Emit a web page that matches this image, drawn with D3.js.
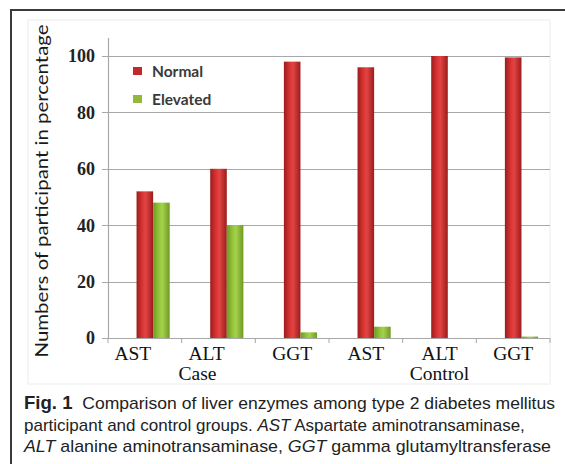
<!DOCTYPE html>
<html>
<head>
<meta charset="utf-8">
<script src="https://cdn.jsdelivr.net/npm/d3@7"></script>
<style>
  html, body { margin: 0; padding: 0; background: #fff; }
  svg { display: block; }
</style>
</head>
<body>
<svg id="chart" width="565" height="464"></svg>
<script>
// ---- data ----
const categories = ["AST", "ALT", "GGT", "AST", "ALT", "GGT"];
const groups = ["Case", "Control"];
const normalValues = [52, 60, 98, 96, 100, 99.5];
const elevatedValues = [48, 40, 2, 4, 0, 0.5];
const seriesNames = ["Normal", "Elevated"];
const yTicks = [0, 20, 40, 60, 80, 100];
const yTitle = "Numbers of participant in percentage";
const captionLines = [
  [{t: "Fig. 1", b: true}, {t: "  Comparison of liver enzymes among type 2 diabetes mellitus"}],
  [{t: "participant and control groups. "}, {t: "AST", i: true}, {t: " Aspartate aminotransaminase,"}],
  [{t: "ALT", i: true}, {t: " alanine aminotransaminase, "}, {t: "GGT", i: true}, {t: " gamma glutamyltransferase"}]
];

// ---- layout ----
const svg = d3.select("#chart");
const plotLeft = 108, plotRight = 550, plotTop = 38, plotBottom = 338;
const captionWidths = [531, null, 527];

const x = d3.scaleBand().domain(d3.range(categories.length)).range([plotLeft, plotRight]);
const y = d3.scaleLinear().domain([0, 100]).range([plotBottom, 56]);

const defs = svg.append("defs");
function grad(id, edge, mid, light) {
  const g = defs.append("linearGradient").attr("id", id).attr("x1", "0").attr("x2", "1").attr("y1", "0").attr("y2", "0");
  g.append("stop").attr("offset", "0%").attr("stop-color", edge);
  g.append("stop").attr("offset", "35%").attr("stop-color", mid);
  g.append("stop").attr("offset", "55%").attr("stop-color", light);
  g.append("stop").attr("offset", "100%").attr("stop-color", edge);
}
grad("gRed", "#9c1c1c", "#d93434", "#e24444");
grad("gGreen", "#6e9a22", "#94c43c", "#a4d24c");

// outer frame
svg.append("path").attr("d", "M11,464 L11,10 L565,10").attr("fill", "none").attr("stroke", "#3a3a3a").attr("stroke-width", 2);
// faint chart area box
svg.append("rect").attr("x", 28).attr("y", 20).attr("width", 522).attr("height", 364)
  .attr("fill", "none").attr("stroke", "#ececec").attr("stroke-width", 1);

// gridlines
svg.append("g").selectAll("line").data(yTicks).join("line")
  .attr("x1", plotLeft - 6).attr("x2", plotRight)
  .attr("y1", d => Math.round(y(d)) + 0.5).attr("y2", d => Math.round(y(d)) + 0.5)
  .attr("stroke", "#a8a8a8").attr("stroke-width", 1.2);

// y axis line
svg.append("line").attr("x1", plotLeft + 0.5).attr("x2", plotLeft + 0.5).attr("y1", plotTop).attr("y2", plotBottom)
  .attr("stroke", "#a8a8a8").attr("stroke-width", 1.2);

// x category boundary ticks
svg.append("g").selectAll("line").data(d3.range(categories.length + 1)).join("line")
  .attr("x1", d => (d < categories.length ? x(d) : plotRight)).attr("x2", d => (d < categories.length ? x(d) : plotRight))
  .attr("y1", plotBottom).attr("y2", plotBottom + 5)
  .attr("stroke", "#a8a8a8").attr("stroke-width", 1);

// y tick labels
svg.append("g").selectAll("text").data(yTicks).join("text")
  .attr("x", 95).attr("y", d => y(d)).attr("dy", "0.36em")
  .attr("text-anchor", "end")
  .attr("font-family", "Liberation Serif").attr("font-weight", "bold").attr("font-size", 18)
  .attr("fill", "#222").text(d => d);

// bars
const bw = x.bandwidth() * 0.225;
const cx = i => x(i) + x.bandwidth() / 2;
svg.append("g").selectAll("rect").data(normalValues).join("rect")
  .attr("x", (d, i) => cx(i) - bw / 2).attr("width", bw)
  .attr("y", d => y(d)).attr("height", d => plotBottom - y(d))
  .attr("fill", "url(#gRed)");
svg.append("g").selectAll("rect").data(elevatedValues).join("rect")
  .attr("x", (d, i) => cx(i) + bw / 2).attr("width", bw)
  .attr("y", d => y(d)).attr("height", d => plotBottom - y(d))
  .attr("fill", "url(#gGreen)");

// category labels
svg.append("g").selectAll("text").data(categories).join("text")
  .attr("x", (d, i) => cx(i) - (i < 2 ? 12 : 0)).attr("y", 360)
  .attr("text-anchor", "middle")
  .attr("font-family", "Liberation Serif").attr("font-size", 19.5)
  .attr("fill", "#111").text(d => d);

// group labels
svg.append("g").selectAll("text").data(groups).join("text")
  .attr("x", (d, i) => cx(i * 3 + 1) - (i === 0 ? 21 : 0)).attr("y", 380)
  .attr("text-anchor", "middle")
  .attr("font-family", "Liberation Serif").attr("font-size", 19.5)
  .attr("fill", "#111").text(d => d);

// legend
const legendColors = ["#c22a2a", "#93b83a"];
const lg = svg.append("g");
seriesNames.forEach((name, i) => {
  const ly = 72 + i * 28;
  lg.append("rect").attr("x", 133).attr("y", ly - 5).attr("width", 9).attr("height", 8).attr("fill", legendColors[i]);
  lg.append("text").attr("x", 152).attr("y", ly + 5)
    .attr("font-family", "Lato").attr("font-weight", "bold").attr("font-size", 15.5)
    .attr("fill", "#3a3a3a").text(name);
});

// y title
svg.append("text")
  .attr("transform", "translate(48,191) rotate(-90)")
  .attr("text-anchor", "middle")
  .attr("font-family", "Lato").attr("font-size", 18)
  .attr("textLength", 333).attr("lengthAdjust", "spacingAndGlyphs")
  .attr("fill", "#1a1a1a").text(yTitle);

// caption
captionLines.forEach((parts, li) => {
  const t = svg.append("text").attr("x", 24).attr("y", 409 + li * 21.5)
    .attr("font-family", "Liberation Sans").attr("font-size", 17).attr("fill", "#222")
    .attr("xml:space", "preserve");
  if (captionWidths[li]) t.attr("textLength", captionWidths[li]).attr("lengthAdjust", "spacingAndGlyphs");
  parts.forEach(p => {
    t.append("tspan").attr("font-weight", p.b ? "bold" : null).attr("font-style", p.i ? "italic" : null)
      .attr("font-size", p.b ? 18 : null).text(p.t);
  });
});
</script>
</body>
</html>
